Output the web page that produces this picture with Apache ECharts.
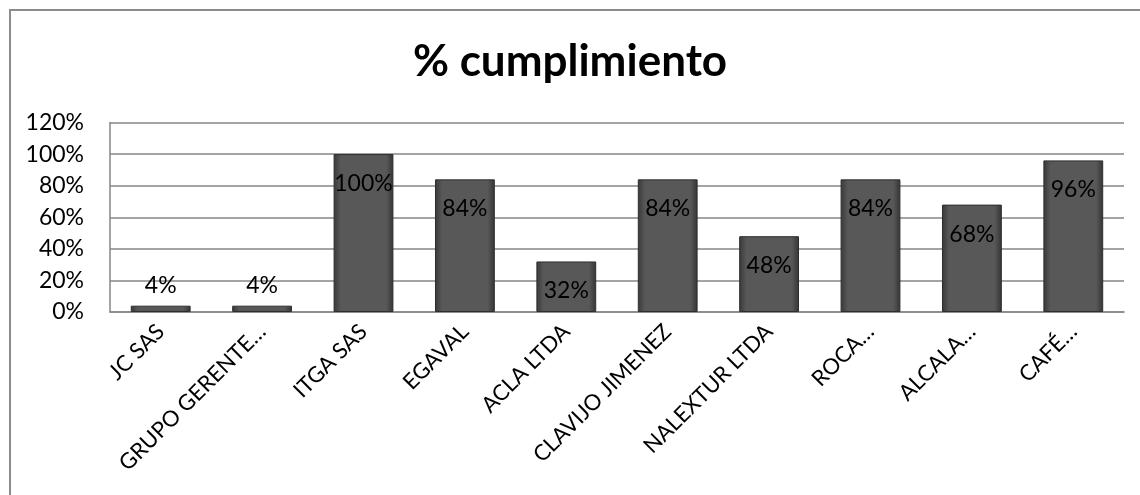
<!DOCTYPE html>
<html>
<head>
<meta charset="utf-8">
<script src="https://cdn.jsdelivr.net/npm/echarts@6/dist/echarts.min.js"></script>
<style>
html,body{margin:0;padding:0;background:#fff;overflow:hidden;}
#frame{position:absolute;left:9px;top:9px;width:1200px;height:600px;border:2px solid #8c8c8c;box-sizing:border-box;}
#chart{position:absolute;left:0;top:0;width:1140px;height:495px;}
</style>
</head>
<body>
<div id="frame"></div>
<div id="chart"></div>
<script>
var titleText = '% cumplimiento';
var categories = ['JC SAS','GRUPO GERENTE…','ITGA SAS','EGAVAL','ACLA LTDA','CLAVIJO JIMENEZ','NALEXTUR LTDA','ROCA…','ALCALA…','CAFÉ…'];
var values = [4,4,100,84,32,84,48,84,68,96];
var yTicks = [0,20,40,60,80,100,120];

var font = 'Lato, "Open Sans", sans-serif';
var chart = echarts.init(document.getElementById('chart'));
var barColor = new echarts.graphic.LinearGradient(0,0,1,0,[
  {offset:0,color:'#383838'},
  {offset:0.12,color:'#585858'},
  {offset:0.88,color:'#585858'},
  {offset:1,color:'#343434'}
]);
var data = values.map(function(v){
  var small = v < 10;
  return {
    value: v,
    label: {
      show: true,
      position: small ? 'top' : 'insideTop',
      distance: small ? 9 : 18
    }
  };
});
chart.setOption({
  animation:false,
  title:{text:titleText,left:'center',top:35,textStyle:{fontFamily:font,fontWeight:'bold',fontSize:44,color:'#000'}},
  grid:{left:110,right:16,top:122.5,bottom:183},
  xAxis:{
    type:'category',data:categories,
    axisLine:{lineStyle:{color:'#868686',width:1.5}},
    axisTick:{show:false},
    axisLabel:{rotate:45,interval:0,fontFamily:font,fontSize:22,color:'#000',margin:16}
  },
  yAxis:{
    type:'value',min:yTicks[0],max:yTicks[yTicks.length-1],interval:20,
    axisLine:{show:true,lineStyle:{color:'#868686',width:1.5}},
    axisTick:{show:false},
    splitLine:{lineStyle:{color:'#868686',width:1.5}},
    axisLabel:{formatter:'{value}%',fontFamily:font,fontSize:23,color:'#000',margin:26}
  },
  series:[{
    type:'bar',data:data,barWidth:'59%',
    itemStyle:{color:barColor,borderColor:'#2e2e2e',borderWidth:1},
    label:{formatter:'{c}%',fontFamily:font,fontSize:23,color:'#000'}
  }]
});
</script>
</body>
</html>
